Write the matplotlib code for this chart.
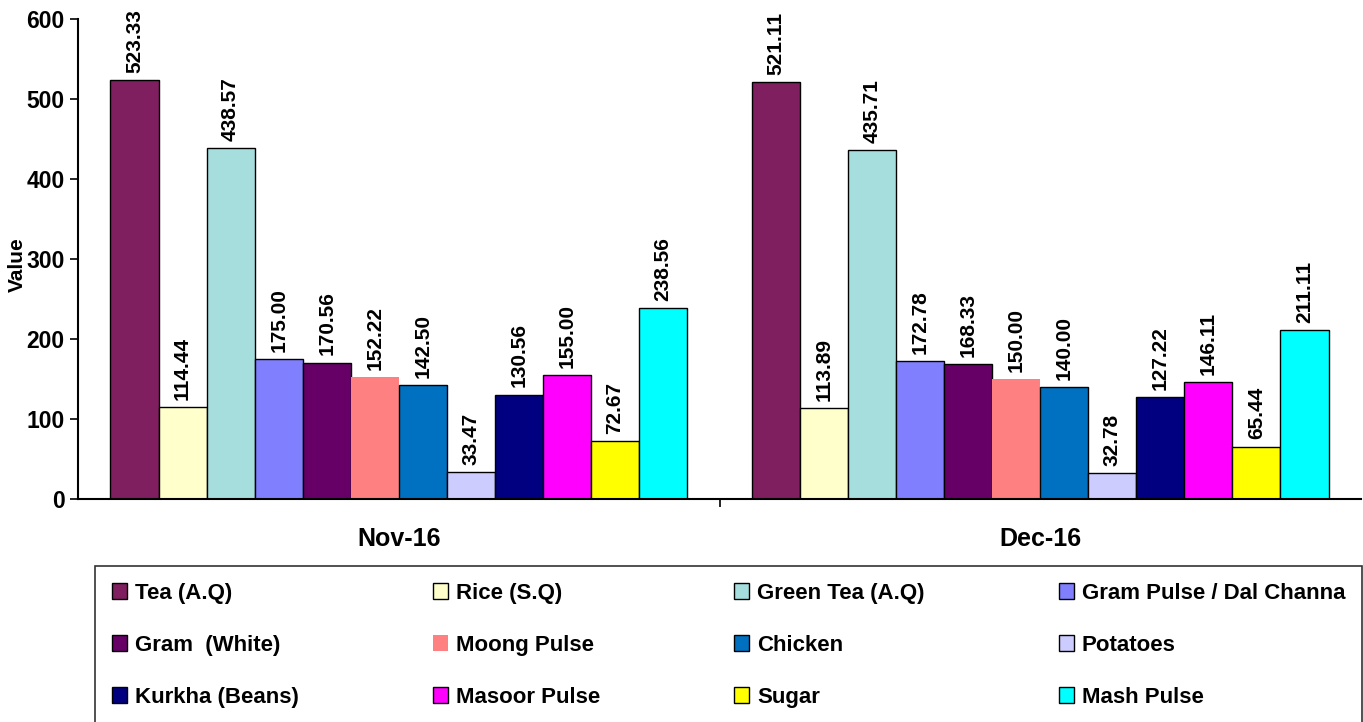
import numpy as np
import matplotlib
matplotlib.use("Agg")
import matplotlib.pyplot as plt

plt.rcParams['font.family'] = ['Liberation Sans', 'DejaVu Sans']

# data
months = ['Nov-16', 'Dec-16']
items = ['Tea (A.Q)', 'Rice (S.Q)', 'Green Tea (A.Q)', 'Gram Pulse / Dal Channa',
         'Gram  (White)', 'Moong Pulse', 'Chicken', 'Potatoes',
         'Kurkha (Beans)', 'Masoor Pulse', 'Sugar', 'Mash Pulse']
nov_vals = [523.33, 114.44, 438.57, 175.00, 170.56, 152.22, 142.50, 33.47,
            130.56, 155.00, 72.67, 238.56]
dec_vals = [521.11, 113.89, 435.71, 172.78, 168.33, 150.00, 140.00, 32.78,
            127.22, 146.11, 65.44, 211.11]
colors = ['#7F1F5F', '#FFFFCC', '#A6DEDE', '#8080FF', '#660066', '#FF8080',
          '#0070C0', '#CCCCFF', '#000080', '#FF00FF', '#FFFF00', '#00FFFF']

values = np.array([nov_vals, dec_vals])

fig = plt.figure(figsize=(13.63, 7.22), dpi=100)
ax = fig.add_axes([78/1363, 1 - 499/722, (1361 - 78)/1363, (499 - 19)/722])

n = len(items)
w = 0.0749
x = np.arange(len(months))
handles = []
for i, (name, c) in enumerate(zip(items, colors)):
    pos = x + (i - (n - 1) / 2) * w
    ec = 'none' if name == 'Moong Pulse' else 'black'
    bars = ax.bar(pos, values[:, i], width=w, color=c, edgecolor=ec,
                  linewidth=1.0, label=name)
    handles.append(bars)
    for b, v in zip(bars, values[:, i]):
        ax.text(b.get_x() + b.get_width() / 2, v + 9, f'{v:.2f}',
                rotation=90, ha='center', va='bottom', fontsize=15,
                fontweight='bold')

ax.set_xlim(-0.5, 1.5)
ax.set_ylim(0, 600)
ax.set_yticks(range(0, 601, 100))
ax.set_xticks([0.5], minor=True)
ax.set_xticks(x)
ax.set_xticklabels(months, fontsize=18, fontweight='bold')
ax.tick_params(axis='x', which='major', length=0, pad=20)
ax.tick_params(axis='x', which='minor', length=6, direction='out', width=1.2)
ax.tick_params(axis='y', labelsize=16.5, length=6, width=1.2)
for lbl in ax.get_yticklabels():
    lbl.set_fontweight('bold')
ax.set_ylabel('Value', fontsize=15, fontweight='bold')
ax.yaxis.set_label_coords(-0.04, 0.4875)
for s in ['top', 'right']:
    ax.spines[s].set_visible(False)
for s in ['left', 'bottom']:
    ax.spines[s].set_linewidth(1.5)

# legend in row-major order like the reference
order = [0, 4, 8, 1, 5, 9, 2, 6, 10, 3, 7, 11]
top = 1 - 566/722
leg = fig.legend([handles[k] for k in order], [items[k] for k in order],
                 loc='upper left', ncol=4, mode='expand',
                 bbox_to_anchor=(95/1363, top - 0.3, (1362 - 95)/1363, 0.3),
                 prop={'weight': 'bold', 'size': 16},
                 frameon=True, fancybox=False, edgecolor='black',
                 handlelength=0.7, handleheight=0.7, handletextpad=0.35,
                 labelspacing=1.4, borderpad=0.75, borderaxespad=0)
leg.get_frame().set_linewidth(1.2)

fig.savefig('out.png', dpi=100, facecolor='white')
